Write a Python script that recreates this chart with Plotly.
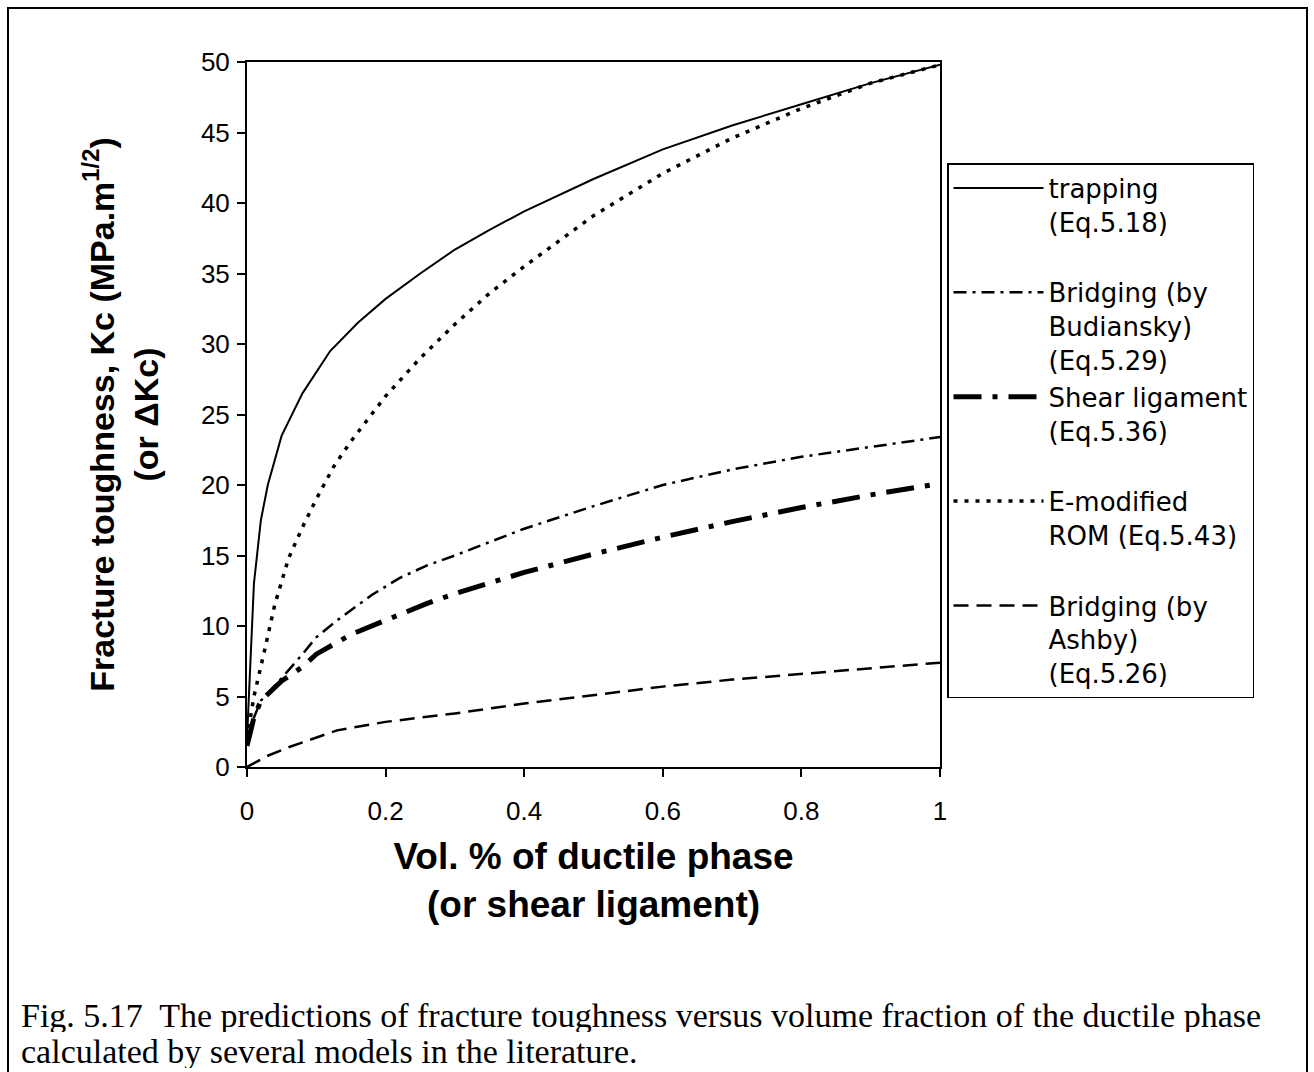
import plotly.graph_objects as go

# ---- data ----
x_trap = [0, 0.005, 0.01, 0.02, 0.03, 0.05, 0.08, 0.12, 0.16, 0.2, 0.25, 0.3, 0.35, 0.4, 0.5, 0.6, 0.7, 0.8, 0.9, 1.0]
y_trap = [2, 8, 13, 17.5, 20, 23.5, 26.5, 29.5, 31.5, 33.2, 35.0, 36.7, 38.1, 39.4, 41.7, 43.8, 45.5, 47.0, 48.5, 49.8]

x_bud = [0, 0.01, 0.02, 0.05, 0.08, 0.1, 0.13, 0.18, 0.22, 0.26, 0.3, 0.4, 0.5, 0.6, 0.7, 0.8, 0.9, 1.0]
y_bud = [1.5, 3.5, 4.7, 6.3, 8.0, 9.2, 10.4, 12.2, 13.4, 14.3, 15.0, 16.9, 18.5, 20.0, 21.1, 22.0, 22.7, 23.4]

x_shear = [0, 0.01, 0.02, 0.05, 0.08, 0.1, 0.15, 0.2, 0.26, 0.3, 0.4, 0.5, 0.6, 0.7, 0.8, 0.9, 1.0]
y_shear = [1.5, 3.5, 4.7, 6.1, 7.1, 8.0, 9.4, 10.4, 11.6, 12.3, 13.8, 15.1, 16.3, 17.4, 18.4, 19.3, 20.1]

x_rom = [0, 0.01, 0.025, 0.04, 0.06, 0.08, 0.1, 0.125, 0.15, 0.2, 0.25, 0.3, 0.35, 0.4, 0.5, 0.6, 0.7, 0.8, 0.9, 1.0]
y_rom = [2, 5, 8.2, 11.5, 14.8, 17, 19, 21.3, 23.1, 26.3, 29, 31.4, 33.6, 35.5, 39.1, 42.1, 44.6, 46.7, 48.5, 49.8]

x_ash = [0, 0.03, 0.06, 0.1, 0.13, 0.2, 0.3, 0.4, 0.5, 0.6, 0.7, 0.8, 0.9, 1.0]
y_ash = [0, 0.8, 1.4, 2.1, 2.6, 3.2, 3.8, 4.5, 5.1, 5.7, 6.2, 6.6, 7.0, 7.4]

names = [
    "trapping<br>(Eq.5.18)<br> ",
    "Bridging (by<br>Budiansky)<br>(Eq.5.29)",
    "Shear ligament<br>(Eq.5.36)<br> ",
    "E-modified<br>ROM (Eq.5.43)<br> ",
    "Bridging (by<br>Ashby)<br>(Eq.5.26)",
]

x_ticks = [0, 0.2, 0.4, 0.6, 0.8, 1]
x_ticklabels = ["0", "0.2", "0.4", "0.6", "0.8", "1"]
y_ticks = [0, 5, 10, 15, 20, 25, 30, 35, 40, 45, 50]

caption_lines = [
    "Fig. 5.17  The predictions of fracture toughness versus volume fraction of the ductile phase",
    "calculated by several models in the literature.",
]

W, H = 1314, 1072
L, R, T, B = 247, 374, 62, 305
pw, ph = W - L - R, H - T - B

def px_x(p):
    return (p - L) / pw

def px_y(p):
    return (H - B - p) / ph

fig = go.Figure()
fig.add_trace(go.Scatter(x=x_trap, y=y_trap, mode="lines", name=names[0],
                         line=dict(color="black", width=2, dash="solid")))
fig.add_trace(go.Scatter(x=x_bud, y=y_bud, mode="lines", name=names[1],
                         line=dict(color="black", width=2.5, dash="13px,6px,3px,6px")))
fig.add_trace(go.Scatter(x=x_shear, y=y_shear, mode="lines", name=names[2],
                         line=dict(color="black", width=5, dash="28px,11px,5px,11px")))
fig.add_trace(go.Scatter(x=x_rom, y=y_rom, mode="lines", name=names[3],
                         line=dict(color="black", width=3.5, dash="4px,7px")))
fig.add_trace(go.Scatter(x=x_ash, y=y_ash, mode="lines", name=names[4],
                         line=dict(color="black", width=2.5, dash="15px,8px")))

axis_font = dict(family="Liberation Sans, Arial", size=26, color="black")

fig.update_layout(
    width=W, height=H,
    margin=dict(l=L, r=R, t=T, b=B, pad=0),
    paper_bgcolor="white", plot_bgcolor="white",
    showlegend=True,
    legend=dict(
        x=px_x(947), y=px_y(163), xanchor="left", yanchor="top",
        bordercolor="black", borderwidth=1.5, bgcolor="white",
        font=dict(family="DejaVu Sans", size=26, color="black"),
        valign="top", itemwidth=90, tracegroupgap=0,
    ),
    xaxis=dict(
        range=[0, 1], tickvals=x_ticks, ticktext=x_ticklabels,
        showgrid=False, zeroline=False,
        showline=True, linecolor="black", linewidth=2, mirror=True,
        ticks="outside", ticklen=8, tickwidth=1.5, tickcolor="black",
        tickfont=axis_font, ticklabelstandoff=12,
        title=dict(text="<b>Vol. % of ductile phase<br>(or shear ligament)</b>",
                   font=dict(family="Liberation Sans, Arial", size=37, color="black"),
                   standoff=18),
    ),
    yaxis=dict(
        range=[0, 50], tickvals=y_ticks,
        showgrid=False, zeroline=False,
        showline=True, linecolor="black", linewidth=2, mirror=True,
        ticks="outside", ticklen=8, tickwidth=1.5, tickcolor="black",
        tickfont=axis_font, ticklabelstandoff=2,
        title=dict(text="<b>Fracture toughness, Kc (MPa.m<sup>1/2</sup>)<br>(or ΔKc)</b>",
                   font=dict(family="Liberation Sans, Arial", size=34, color="black"),
                   standoff=32),
    ),
)

# caption (two lines)
for txt, yc in zip(caption_lines, [1015, 1051]):
    fig.add_annotation(
        xref="paper", yref="paper", x=px_x(20), y=px_y(yc),
        xanchor="left", yanchor="middle", align="left", valign="middle",
        showarrow=False, height=34, borderpad=0,
        text=txt,
        font=dict(family="Liberation Serif, Times New Roman", size=34, color="black"),
    )

# outer frame
fig.add_shape(type="rect", xref="paper", yref="paper",
              x0=px_x(8), x1=px_x(1307), y0=px_y(1090), y1=px_y(8),
              line=dict(color="black", width=2), layer="below")

fig.write_html(
    "out.html",
    config={"displayModeBar": False},
    post_script="document.body.style.margin='0';document.body.style.overflow='hidden';",
)
